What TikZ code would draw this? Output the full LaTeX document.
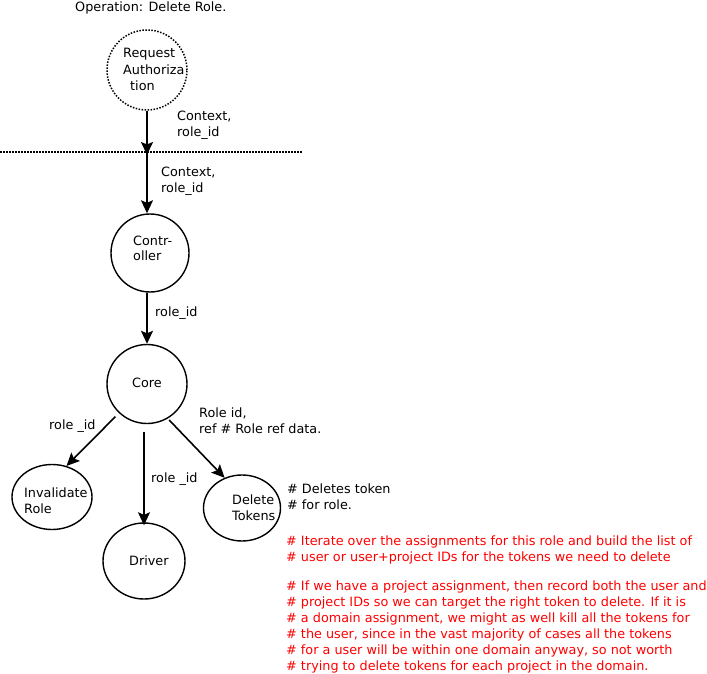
\documentclass[tikz,border=0pt]{standalone}
\usepackage{fontspec}
\setmainfont{DejaVu Sans}
\usetikzlibrary{arrows.meta,shapes.geometric}
\begin{document}
\begin{tikzpicture}[x=1pt,y=-1pt,
  every node/.style={font=\fontsize{12.8}{16}\selectfont},
  proc/.style={draw,line width=1.4pt,ellipse,inner sep=0pt},
  reqproc/.style={draw,line width=1.5pt,dash pattern=on 1.5pt off 1.5pt,circle,inner sep=0pt},
  flow/.style={line width=1.6pt,-{Stealth[length=13pt,width=12pt,inset=2.5pt]}},
  lbl/.style={anchor=base west,inner sep=0pt,align=left},
  note/.style={anchor=base west,inner sep=0pt,text=red}]
\useasboundingbox (0,0) rectangle (707,674);

% title
\node[lbl] (title) at (75,12) {Operation: Delete Role.};

% processes
\node[reqproc,minimum size=80pt] (req) at (147,70) {};
\node[proc,minimum width=78pt,minimum height=78pt] (ctrl) at (150,253) {};
\node[proc,minimum width=80pt,minimum height=79pt] (core) at (147,384) {};
\node[proc,minimum width=80pt,minimum height=65pt] (inv) at (52,497) {};
\node[proc,minimum width=82pt,minimum height=76pt] (drv) at (144,561) {};
\node[proc,minimum width=77pt,minimum height=66pt] (del) at (242,508) {};

% process names
\node[lbl] (reqt1) at (123,58) {Request};
\node[lbl] (reqt2) at (123,75) {Authoriza};
\node[lbl] (reqt3) at (130,91) {tion};
\node[lbl] (ctrlt1) at (133,245) {Contr-};
\node[lbl] (ctrlt2) at (133,260) {oller};
\node[lbl] (coret) at (132,387) {Core};
\node[lbl] (invt1) at (24,497) {Invalidate};
\node[lbl] (invt2) at (24,513) {Role};
\node[lbl] (drvt) at (129,565) {Driver};
\node[lbl] (delt1) at (232,504) {Delete};
\node[lbl] (delt2) at (232,520) {Tokens};

% trust boundary
\coordinate (bl) at (0,152);
\coordinate (br) at (302,152);
\draw[line width=1.5pt,dash pattern=on 1.5pt off 1.5pt] (bl) -- (br);

% connectors
\draw[flow] (req.south) -- ([yshift=-3pt]req.south |- bl);
\draw[flow] (req.south |- bl) -- (req.south |- ctrl.north);
\draw[flow] (ctrl.south -| req.south) -- (req.south |- core.north);
\draw[flow,shorten <=5pt] (core.-134) -- (inv.65);
\draw[flow,shorten <=8pt] (drv.north |- core.south) -- ([yshift=-3pt]drv.north);
\draw[flow,shorten <=2pt] (core.-59) -- (del.120);

% connector labels
\node[lbl] (l1a) at (177,121) {Context,};
\node[lbl] (l1b) at (177,137) {role\_id};
\node[lbl] (l2a) at (161,177) {Context,};
\node[lbl] (l2b) at (161,193) {role\_id};
\node[lbl] (l3) at (155,316) {role\_id};
\node[lbl] (l4) at (49,429) {role \_id};
\node[lbl] (l5) at (151,482) {role \_id};
\node[lbl] (l6a) at (199,417) {Role id,};
\node[lbl] (l6b) at (199,433) {ref \# Role ref data.};

% comments
\node[lbl] (c1a) at (287,493) {\# Deletes token};
\node[lbl] (c1b) at (287,509) {\# for role.};
\node[note] (n1) at (286,545) {\# Iterate over the assignments for this role and build the list of};
\node[note] (n2) at (286,561) {\# user or user+project IDs for the tokens we need to delete};
\node[note] (n3) at (286,590) {\# If we have a project assignment, then record both the user and};
\node[note] (n4) at (286,606) {\# project IDs so we can target the right token to delete. If it is};
\node[note] (n5) at (286,622) {\# a domain assignment, we might as well kill all the tokens for};
\node[note] (n6) at (286,638) {\# the user, since in the vast majority of cases all the tokens};
\node[note] (n7) at (286,654) {\# for a user will be within one domain anyway, so not worth};
\node[note] (n8) at (286,670) {\# trying to delete tokens for each project in the domain.};
\end{tikzpicture}
\end{document}
